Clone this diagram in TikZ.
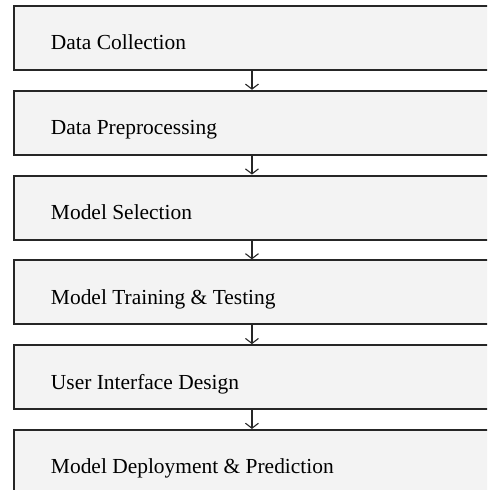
\documentclass[tikz,border=0pt]{standalone}
\usepackage{fontspec}
\setmainfont{Liberation Serif}
\usetikzlibrary{arrows.meta,positioning}
\definecolor{boxline}{HTML}{262626}
\definecolor{boxfill}{HTML}{F3F3F3}
\tikzset{
  stagebox/.style={draw=boxline,line width=0.04cm,fill=boxfill,
    minimum width=9.52cm,minimum height=1.28cm,text width=8.04cm,align=flush left,
    inner xsep=0.74cm,inner ysep=0pt,text height=0.48cm,text depth=0pt,
    font=\fontsize{12.2}{14}\selectfont},
  flowarr/.style={-{Straight Barb[length=0.1cm,width=0.26cm]},line width=0.022cm,draw=boxline},
}
\begin{document}
\begin{tikzpicture}[x=0.02cm,y=-0.02cm,node distance=0.376cm]
  \useasboundingbox (0,0) rectangle (487,490);
  \clip (0,0) rectangle (487,490);
  % stages, top to bottom
  \node[stagebox,anchor=north west] (collect) at (13,5) {Data Collection};
  \node[stagebox,below=of collect] (prep) {Data Preprocessing};
  \node[stagebox,below=of prep] (select) {Model Selection};
  \node[stagebox,below=of select] (train) {Model Training \& Testing};
  \node[stagebox,below=of train] (ui) {User Interface Design};
  \node[stagebox,below=of ui] (deploy) {Model Deployment \& Prediction};
  % arrows
  \foreach \a/\b in {collect/prep,prep/select,select/train,train/ui,ui/deploy}{
    \draw[flowarr] (\a.south) -- (\b.north);
  }
\end{tikzpicture}
\end{document}
